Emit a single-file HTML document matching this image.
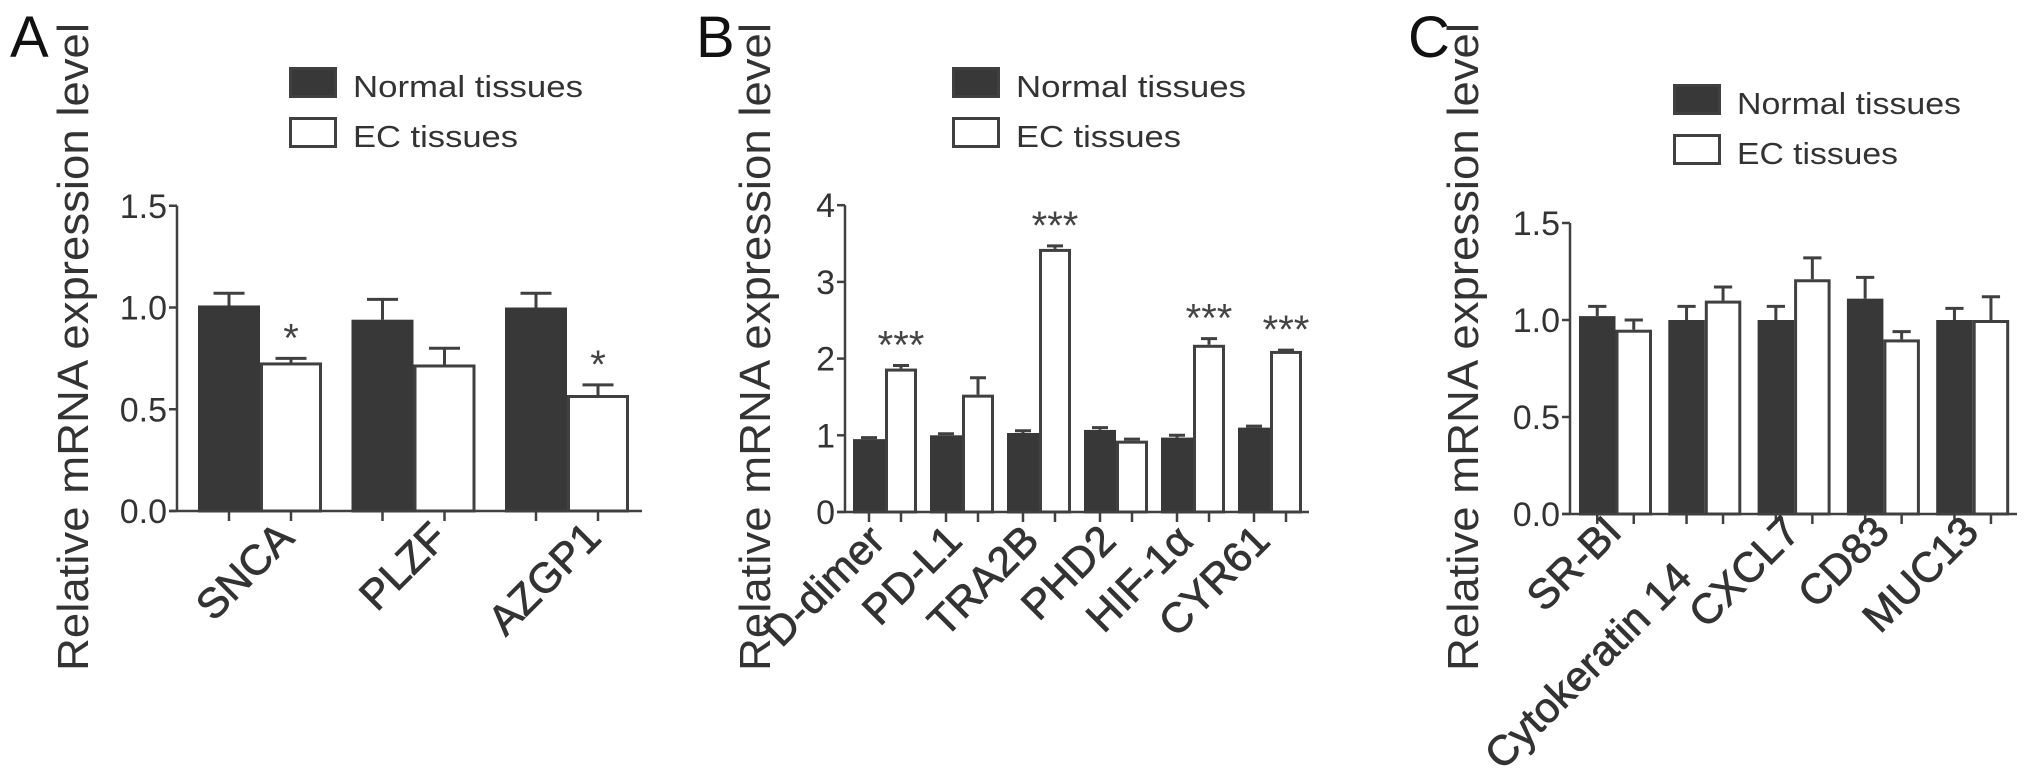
<!DOCTYPE html>
<html><head><meta charset="utf-8"><style>
html,body{margin:0;padding:0;background:#fff;}
svg{display:block;font-family:"Liberation Sans",Arial,sans-serif;}
</style></head><body>
<svg id="fig" width="2031" height="769" viewBox="0 0 2031 769" xmlns="http://www.w3.org/2000/svg"></svg>
<script>
// ---- Panel A data ----
const catsA = ["SNCA","PLZF","AZGP1"];
const normalA = [1.01, 0.94, 1.00];
const normalErrA = [0.06, 0.10, 0.07];
const ecA = [0.73, 0.72, 0.57];
const ecErrA = [0.02, 0.08, 0.05];
const sigA = ["*","","*"];
const ticksA = [0, 0.5, 1.0, 1.5];
const tickLabelsA = ["0.0","0.5","1.0","1.5"];
// ---- Panel B data ----
const catsB = ["D-dimer","PD-L1","TRA2B","PHD2","HIF-1\u03b1","CYR61"];
const normalB = [0.95, 1.00, 1.03, 1.07, 0.97, 1.10];
const normalErrB = [0.02, 0.02, 0.03, 0.03, 0.03, 0.02];
const ecB = [1.87, 1.53, 3.43, 0.93, 2.18, 2.10];
const ecErrB = [0.04, 0.22, 0.04, 0.02, 0.08, 0.01];
const sigB = ["***","","***","","***","***"];
const ticksB = [0,1,2,3,4];
const tickLabelsB = ["0","1","2","3","4"];
// ---- Panel C data ----
const catsC = ["SR-BI","Cytokeratin 14","CXCL7","CD83","MUC13"];
const normalC = [1.02, 1.00, 1.00, 1.11, 1.00];
const normalErrC = [0.05, 0.07, 0.07, 0.11, 0.06];
const ecC = [0.95, 1.10, 1.21, 0.90, 1.00];
const ecErrC = [0.05, 0.07, 0.11, 0.04, 0.12];
const sigC = ["","","","",""];
const ticksC = [0, 0.5, 1.0, 1.5];
const tickLabelsC = ["0.0","0.5","1.0","1.5"];

const NS = "http://www.w3.org/2000/svg";
const svg = document.getElementById("fig");
function mk(tag, attrs, parent){
  const e = document.createElementNS(NS, tag);
  for (const k in attrs) e.setAttribute(k, attrs[k]);
  (parent||svg).appendChild(e);
  return e;
}
const DARK = "#383838", LINE = "#404040";

function panel(cfg){
  const g = mk("g", {});
  
  
  const yS = v => cfg.y0 - v * cfg.unit;
  const gx = i => cfg.first + i * cfg.pitch;
  const L = mk("text", {x: cfg.letterX, y: 57, "font-size": 58, fill: "#111"}, g);
  L.textContent = cfg.letter;
  
  
  const T = mk("text", {x: 0, y: 0, "font-size": 44, fill: "#333", "text-anchor": "middle",
    transform: `translate(${cfg.titleX},347) rotate(-90)`, textLength: 648, lengthAdjust: "spacingAndGlyphs"}, g);
  T.textContent = "Relative mRNA expression level";
  
  
  const lg = mk("g", {}, g);
  
  
  const rows = [["Normal tissues", DARK, cfg.legY, cfg.legW1], ["EC tissues", "#fff", cfg.legY + cfg.legGap, cfg.legW2]];
  rows.forEach((r, k) => {
    const box = mk("rect", {x: cfg.legX + 1.5, y: r[2] + 1.5, width: 45, height: 28, fill: r[1], stroke: LINE, "stroke-width": 3}, lg);
    
    
    const t = mk("text", {x: cfg.legX + 64, y: r[2] + 30, "font-size": 31, fill: "#333", textLength: r[3], lengthAdjust: "spacingAndGlyphs"}, lg);
    t.textContent = r[0];
    
    
  });
  const n = cfg.cats.length;
  for (let i = 0; i < n; i++) {
    const x0 = gx(i);
    [[cfg.normal[i], cfg.nErr[i], DARK, 0], [cfg.ec[i], cfg.eErr[i], "#fff", 1]].forEach(s => {
      const bx = x0 + s[3] * cfg.barW;
      const cx = bx + cfg.barW / 2;
      const top = yS(s[0] + s[1]);
      const e = mk("path", {d: `M${cx},${yS(s[0])}V${top}M${cx - cfg.barW*0.25},${top}H${cx + cfg.barW*0.25}`, stroke: LINE, "stroke-width": 3, fill: "none"}, g);
      
      
      const b = mk("rect", {x: bx + 1.5, y: yS(s[0]) + 1.5, width: cfg.barW - 3, height: s[0] * cfg.unit - 1.5, fill: s[2], stroke: s[3] ? LINE : DARK, "stroke-width": 3}, g);
      
      
      const tk = mk("line", {x1: cx, x2: cx, y1: cfg.y0, y2: cfg.y0 + 10, stroke: LINE, "stroke-width": 2.5}, g);
      
      
    });
    if (cfg.sig[i]) {
      const cx = x0 + cfg.barW * 1.5;
      const st = mk("text", {x: cx, y: yS(cfg.ec[i] + cfg.eErr[i]) - 30 + 23, "font-size": 40, fill: "#444", "text-anchor": "middle"}, g);
      st.textContent = cfg.sig[i];
      
      
    }
    const sh = (cfg.labShift && cfg.labShift(i)) || [0, 0];
    const lx = x0 + cfg.barW + cfg.labDx + sh[0], ly = cfg.y0 + cfg.labDy + sh[1];
    const xl = mk("text", {x: 0, y: 0, "font-size": 42, fill: "#333", "stroke": "#333", "stroke-width": 0.8, "text-anchor": "end",
      transform: `translate(${lx},${ly}) rotate(-45)`}, g);
    xl.textContent = cfg.cats[i];
    
    
  }
  const ax = mk("path", {d: `M${cfg.axisX},${yS(cfg.ticks[cfg.ticks.length-1])}V${cfg.y0}M${cfg.axisX - 8},${cfg.y0}H${cfg.axisEnd}`, stroke: LINE, "stroke-width": 2.5, fill: "none"}, g);
  
  
  cfg.ticks.forEach((v, k) => {
    const tl = mk("line", {x1: cfg.axisX - 8, x2: cfg.axisX, y1: yS(v), y2: yS(v), stroke: LINE, "stroke-width": 2.5}, g);
    
    
    const tt = mk("text", {x: cfg.axisX - 10, y: yS(v) + 12, "font-size": 34, fill: "#333", "text-anchor": "end"}, g);
    tt.textContent = cfg.tickLabels[k];
    
    
  });
}

panel({id:"panel-a", letter:"A", letterX:10, titleX:88, cats:catsA, normal:normalA, nErr:normalErrA, ec:ecA, eErr:ecErrA, sig:sigA,
  ticks:ticksA, tickLabels:tickLabelsA, axisX:177, axisEnd:642, y0:511, unit:203.5, first:198, pitch:153.5, barW:62,
  legX:289, legY:67, legGap:50, legW1:230, legW2:165, labDx:36, labDy:29});
panel({id:"panel-b", letter:"B", letterX:696, titleX:770, cats:catsB, normal:normalB, nErr:normalErrB, ec:ecB, eErr:ecErrB, sig:sigB,
  ticks:ticksB, tickLabels:tickLabelsB, axisX:845, axisEnd:1309, y0:512, unit:76.7, first:853, pitch:77, barW:32,
  legX:952, legY:67, legGap:50, legW1:230, legW2:165, labDx:2, labDy:31});
panel({id:"panel-c", letter:"C", letterX:1408, titleX:1478, cats:catsC, normal:normalC, nErr:normalErrC, ec:ecC, eErr:ecErrC, sig:sigC,
  ticks:ticksC, tickLabels:tickLabelsC, axisX:1570, axisEnd:2017, y0:514, unit:194, first:1579, pitch:89.3, barW:36.5,
  legX:1673, legY:84, legGap:50, legW1:224, legW2:161, labDx:8, labDy:20,
  labShift: i => (i === 1 ? [-19, 46] : null)});
</script>
</body></html>
